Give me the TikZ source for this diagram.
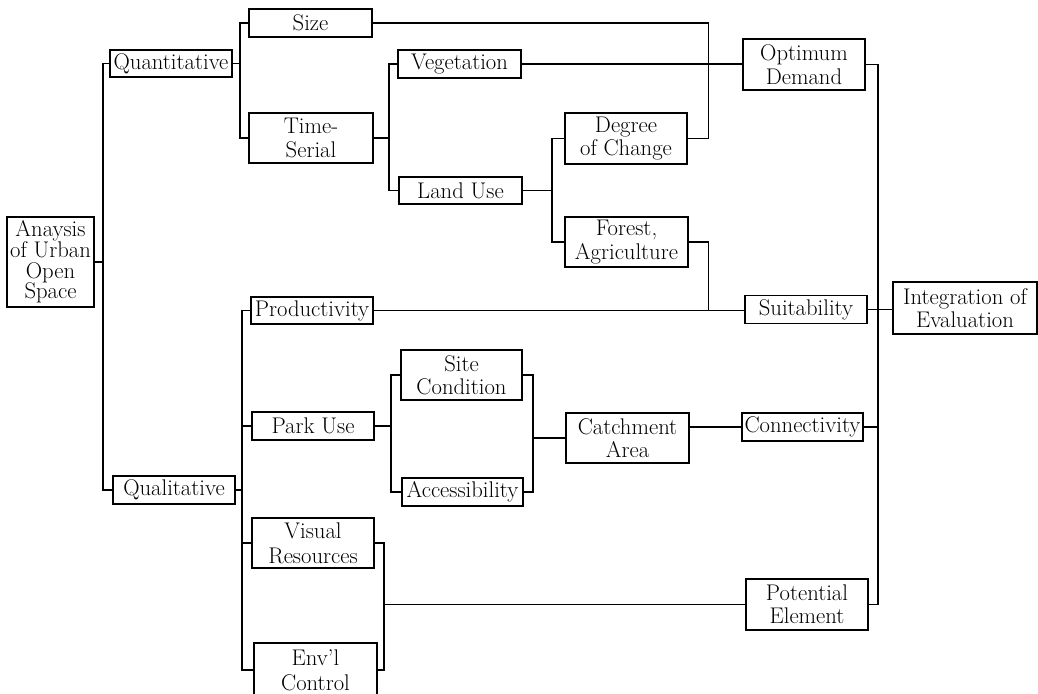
\documentclass[tikz,border=0pt]{standalone}
\begin{document}
\begin{tikzpicture}[x=0.75pt,y=-0.75pt,
  box/.style={draw, line width=1pt, inner sep=0pt, align=center,
    font=\fontsize{17}{17.5}\selectfont},
  sz/.style 2 args={minimum width=#1*0.75pt, minimum height=#2*0.75pt},
  conn/.style={line width=1pt}]
\useasboundingbox (0,0) rectangle (1038,693);
\clip (0,0) rectangle (1038,693);
% nodes
\node[box,sz={87}{90},font=\fontsize{17}{15.5}\selectfont] (ana) at (50.5,262) {Anaysis\\of Urban\\Open\\Space};
\node[box,sz={122}{27}] (quant) at (171,63.5) {Quantitative};
\node[box,sz={122}{28}] (qual) at (174,490) {Qualitative};
\node[box,sz={123}{28}] (size) at (310.5,23) {Size};
\node[box,sz={124}{50},font=\fontsize{17}{18.5}\selectfont] (ts) at (311,138) {Time-\\Serial};
\node[box,sz={123}{28}] (veg) at (459.5,64) {Vegetation};
\node[box,sz={123}{27}] (lu) at (460.5,190.5) {Land Use};
\node[box,sz={122}{51}] (doc) at (626,138.5) {Degree\\of Change};
\node[box,sz={123}{50}] (forest) at (626.5,242) {Forest,\\Agriculture};
\node[box,sz={122}{51}] (opt) at (804,64.5) {Optimum\\Demand};
\node[box,sz={122}{28}] (suit) at (806,309.5) {Suitability};
\node[box,sz={144}{52}] (integ) at (965,308) {Integration of\\Evaluation};
\node[box,sz={122}{27}] (prod) at (312,310.5) {Productivity};
\node[box,sz={122}{28}] (park) at (313,426) {Park Use};
\node[box,sz={121}{50}] (site) at (461.5,375) {Site\\Condition};
\node[box,sz={121}{28}] (acc) at (462.5,492) {Accessibility};
\node[box,sz={123}{50}] (catch) at (627.5,438) {Catchment\\Area};
\node[box,sz={121}{28}] (con) at (802.5,427) {Connectivity};
\node[box,sz={122}{51}] (pot) at (807,604.5) {Potential\\Element};
\node[box,sz={122}{50},font=\fontsize{17}{18.5}\selectfont] (vis) at (313,543) {Visual\\Resources};
\node[box,sz={123}{54},font=\fontsize{17}{18.5}\selectfont] (envl) at (315.5,670) {Env'l\\Control};
% trunk coordinates
\coordinate (tA) at (103,0);
\coordinate (tB) at (240,0);
\coordinate (tC) at (389,0);
\coordinate (tD) at (552,0);
\coordinate (tE) at (708.5,0);
\coordinate (tF) at (878,0);
\coordinate (tG) at (242,0);
\coordinate (tH) at (391,0);
\coordinate (tI) at (533,0);
\coordinate (tJ) at (384,0);
% connectors
\draw[conn] (quant.west) -- (quant.west -| tA) -- (qual.west -| tA) -- (qual.west);
\draw[conn] (ana.east) -- (ana.east -| tA);
\draw[conn] (size.west) -- (size.west -| tB) -- (ts.west -| tB) -- (ts.west);
\draw[conn] (quant.east) -- (quant.east -| tB);
\draw[conn] (veg.west) -- (veg.west -| tC) -- (lu.west -| tC) -- (lu.west);
\draw[conn] (ts.east) -- (ts.east -| tC);
\draw[conn] (doc.west) -- (doc.west -| tD) -- (forest.west -| tD) -- (forest.west);
\draw[conn] (lu.east) -- (lu.east -| tD);
\draw[conn] (size.east) -- (size.east -| tE) -- (doc.east -| tE) -- (doc.east);
\draw[conn] (veg.east) -- (veg.east -| opt.west);
\draw[conn] (forest.east) -- (forest.east -| tE) -- (tE |- prod.east);
\draw[conn] (prod.east) -- (prod.east -| suit.west);
\draw[conn] (opt.east) -- (opt.east -| tF) -- (pot.east -| tF) -- (pot.east);
\draw[conn] (suit.east) -- (suit.east -| integ.west);
\draw[conn] (con.east) -- (con.east -| tF);
\draw[conn] (prod.west) -- (prod.west -| tG) -- (envl.west -| tG) -- (envl.west);
\draw[conn] (qual.east) -- (qual.east -| tG);
\draw[conn] (park.west) -- (park.west -| tG);
\draw[conn] (vis.west) -- (vis.west -| tG);
\draw[conn] (site.west) -- (site.west -| tH) -- (acc.west -| tH) -- (acc.west);
\draw[conn] (park.east) -- (park.east -| tH);
\draw[conn] (site.east) -- (site.east -| tI) -- (acc.east -| tI) -- (acc.east);
\draw[conn] (catch.west) -- (catch.west -| tI);
\draw[conn] (con.west) -- (con.west -| catch.east);
\draw[conn] (vis.east) -- (vis.east -| tJ) -- (envl.east -| tJ) -- (envl.east);
\draw[conn] (pot.west) -- (pot.west -| tJ);
\end{tikzpicture}
\end{document}
